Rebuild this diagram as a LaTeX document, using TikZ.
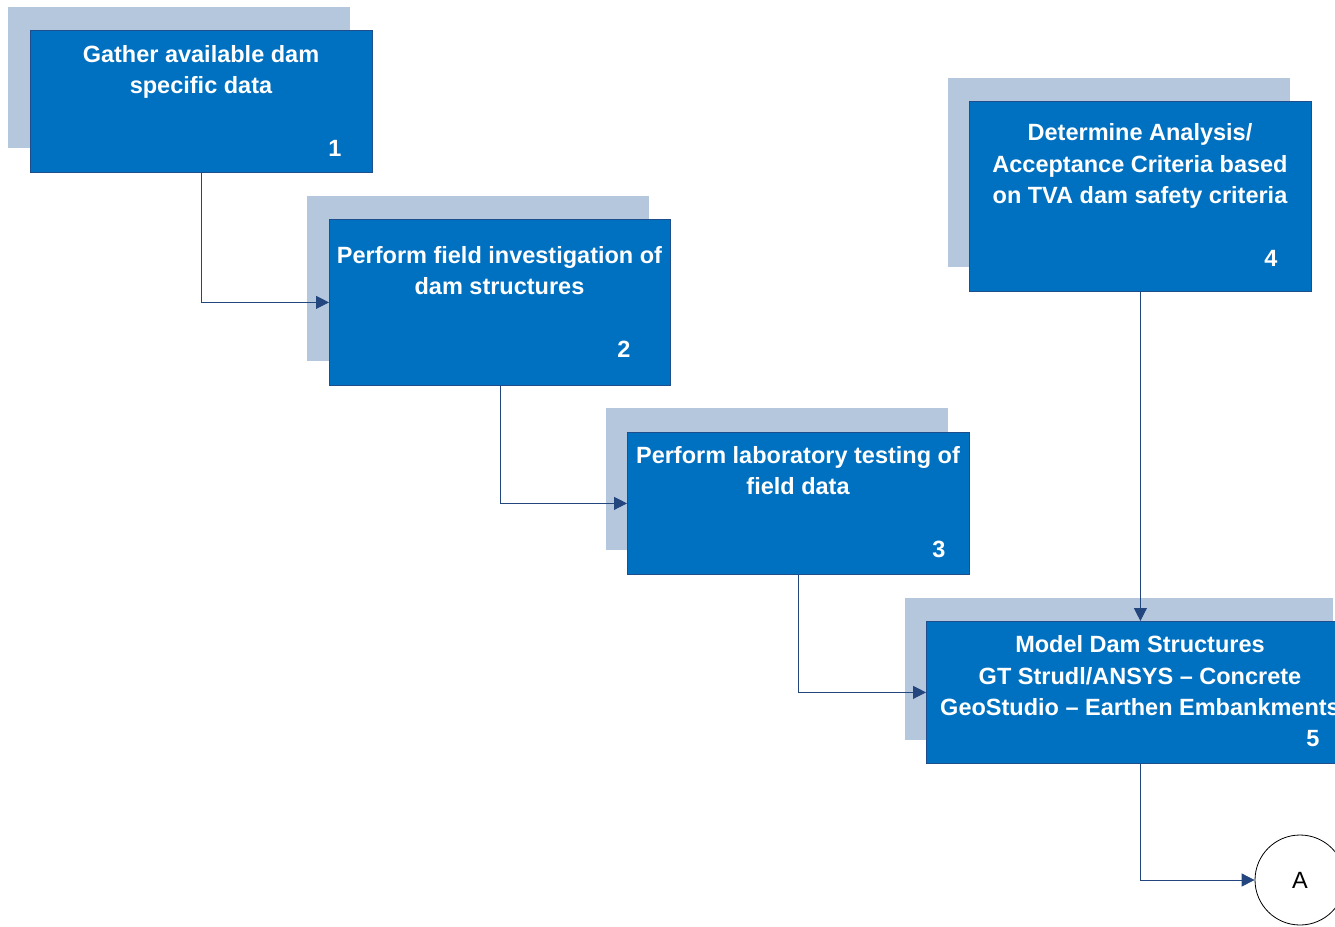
\documentclass[tikz,border=0pt]{standalone}
\usepackage{fontspec}
\setmainfont{Liberation Sans}
\usetikzlibrary{arrows.meta}
\definecolor{boxblue}{HTML}{0070C0}
\definecolor{boxedge}{HTML}{1F4E8C}
\definecolor{shade}{HTML}{B5C7DD}
\definecolor{linkc}{HTML}{24467F}
\tikzset{
  shadowbox/.style={fill=shade, draw=none, anchor=north west, inner sep=0pt},
  mainbox/.style={fill=boxblue, draw=boxedge, line width=0.8pt, anchor=north west, inner sep=0pt},
  boxtext/.style={text=white, font=\bfseries\fontsize{23.5}{31.5}\selectfont, align=center, anchor=base, inner sep=0pt},
  numtext/.style={text=white, font=\bfseries\fontsize{23.5}{28}\selectfont, anchor=base, inner sep=0pt},
  link/.style={draw=linkc, line width=0.8pt, -{Triangle[length=13pt,width=13pt]}},
}
\begin{document}
\begin{tikzpicture}[x=1pt,y=-1pt]
\useasboundingbox (0,0) rectangle (1335,926);
\clip (0,0) rectangle (1335,926);
% shadows
\node[shadowbox, minimum width=342pt, minimum height=141pt] (s1) at (8,7) {};
\node[shadowbox, minimum width=342pt, minimum height=165pt] (s2) at (307,196) {};
\node[shadowbox, minimum width=342pt, minimum height=142pt] (s3) at (606,408) {};
\node[shadowbox, minimum width=342pt, minimum height=189pt] (s4) at (948,78) {};
\node[shadowbox, minimum width=428pt, minimum height=142pt] (s5) at (905,598) {};
% main boxes
\node[mainbox, minimum width=342pt, minimum height=142pt] (b1) at (30,30) {};
\node[mainbox, minimum width=341pt, minimum height=166pt] (b2) at (329,219) {};
\node[mainbox, minimum width=342pt, minimum height=142pt] (b3) at (627,432) {};
\node[mainbox, minimum width=342pt, minimum height=190pt] (b4) at (969,101) {};
\node[mainbox, minimum width=428pt, minimum height=142pt] (b5) at (926,621) {};
% texts (anchor=base refers to the last line)
\node[boxtext] (t1) at (201,93.5) {Gather available dam\\specific data};
\node[numtext] (n1) at (335,156.5) {1};
\node[boxtext] (t2) at (499.5,294.5) {Perform field investigation of\\dam structures};
\node[numtext] (n2) at (624,357.5) {2};
\node[boxtext] (t3) at (798,494.5) {Perform laboratory testing of\\field data};
\node[numtext] (n3) at (939,557.5) {3};
\node[boxtext] (t4) at (1140,203.5) {Determine Analysis/\\Acceptance Criteria based\\on TVA dam safety criteria};
\node[numtext] (n4) at (1271,266.5) {4};
\node[boxtext] (t5) at (1140,715.5) {Model Dam Structures\\GT Strudl/ANSYS -- Concrete\\GeoStudio -- Earthen Embankments};
\node[numtext] (n5) at (1313,746.5) {5};
% off-page connector circle
\node[circle, draw=black, line width=0.8pt, minimum size=90pt, inner sep=0pt, font=\fontsize{23.5}{28}\selectfont] (A) at (1300,880) {A};
% connectors
\draw[link] (b1.south) |- (b2.west);
\draw[link] (b2.south) |- (b3.west);
\draw[link] (b3.south) |- (b5.west);
\draw[link] (b4.south) -- (b4.south |- b5.north);
\draw[link] (b5.south -| b4.south) |- (A.west);
\end{tikzpicture}
\end{document}
